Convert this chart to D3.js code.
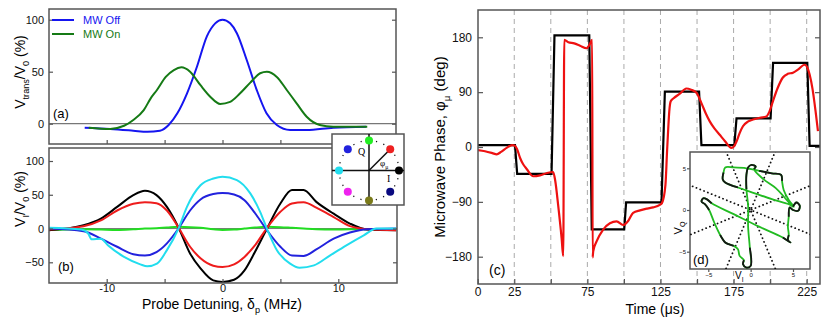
<!DOCTYPE html>
<html>
<head>
<meta charset="utf-8">
<script src="https://cdn.jsdelivr.net/npm/d3@7"></script>
<style>
body { margin: 0; background: #fff; }
svg { display: block; font-family: "Liberation Sans", Arial, sans-serif; }
</style>
</head>
<body>
<svg id="fig" width="830" height="325"></svg>
<script>
// ---- (a) transmission vs probe detuning
var offDet = [-11.9, -9.7, -7.7, -6.5, -5.4, -4.65, -3.9, -3.07, -2.2, -1.35, -0.63, 0, 0.66, 1.24, 2.1, 2.97, 3.8, 4.69, 5.84, 7.27, 9.57, 12.4];
var offV   = [-3.8, -5, -6.7, -7.8, -6.7, -1.2, 10, 29, 55, 84, 96.5, 100, 96.5, 87, 61, 32, 10, -1.2, -6, -6, -3.8, -2.9];
var onDet  = [-11.55, -9.7, -8.5, -7.7, -6.8, -6.2, -5.66, -4.9, -4.2, -3.56, -2.8, -1.9, -1.06, -0.2, 0.66, 1.5, 2.4, 3.25, 3.83, 4.69, 5.55, 6.4, 7.27, 8.4, 9.57, 12.5];
var onV    = [-3.8, -5, -2, 3.6, 13, 24.4, 32.4, 45, 51.6, 54.2, 50, 37, 26, 19, 21, 29, 39.5, 48.5, 50, 45, 32.4, 19.6, 6.7, -1.2, -2.9, -2.9];

// ---- (b) in-phase signal for several microwave phases
var bDet   = [-15, -12, -10.5, -9.1, -7.7, -6.7, -5.7, -4.8, -3.8, -2.8, -1.9, -0.8, 0, 1, 1.9, 2.8, 3.8, 5, 6, 7, 8.1, 9.6, 11, 12.5, 15];
var vI0    = [-2.5, 4.9, 14.8, 32, 49.5, 56, 49.5, 32, 1.5, -37, -59, -76.8, -79, -75.8, -62, -34.8, -1.5, 37, 57, 57, 39.5, 22, 7.4, -1.5, -2.5];
var vI45   = [-1.5, 3.4, 12, 26.7, 36.6, 39, 37.6, 26.7, 1.5, -27, -44, -55, -57, -53, -42, -25, 0, 24.8, 37, 39, 31, 17, 3.5, -1, -2.5];
var vI90   = [-2, -1, -1.5, -2, -1, 0, 0.5, 1.5, 2.5, 2, 1, -1, -2, -1.5, 0, 1.5, 2.5, 2, 1, 0, -1, -1.5, -1, -1, -1];
var vI135  = [0, -4, -15, -27, -38, -40, -35, -22, 0, 26.7, 43, 51, 52.5, 50.5, 42, 23, -1.5, -27, -40, -40.5, -31, -15, -6, -1, 0];
var cyanDet = [-15, -12.2, -11.6, -11.3, -10.5, -9.9, -8.5, -7.1, -6.5, -5.66, -4.8, -3.8, -3.07, -1.9, -0.78, 0, 1.24, 2.4, 3.25, 3.83, 4.7, 5.84, 6.66, 7.9, 9.3, 10.7, 12.2, 13.3, 15];
var vI180   = [1, -1.5, -7.4, -16, -15, -24.8, -42, -53, -56, -52, -32, 0, 32, 64, 74, 76.7, 71.8, 52, 24.7, 0, -32, -52, -58, -54.5, -39.6, -24.8, -10, 0, 0];

// ---- phasor diagram
var phasorDeg = [90, 45, 0, -45, -90, -135, 180, 135];
var phasorCol = ["#22ee22", "#ee2020", "#000000", "#0a0a80", "#7a7a1a", "#ee22ee", "#22ddee", "#2222dd"];

// ---- (c) microwave phase vs time
var blackT   = [0, 25.5, 27, 50.5, 52.5, 76.3, 78, 100.2, 101.5, 125.7, 128, 151.4, 153, 175.5, 177, 200.3, 202, 225.4, 227, 234];
var blackPhi = [3, 3, -44, -44, 183, 183, -135, -135, -91, -91, 91, 91, 3, 3, 47, 47, 138, 138, 2, 2];
var redT   = [0, 5, 10, 13, 16, 20, 23.5, 25.5, 27, 29, 31, 33.5, 38, 42.6, 47, 51.6, 53, 55, 57.4, 58.5, 59.2, 62, 66, 70, 74.4, 76.5, 78.3,
              78.6, 79, 81.3, 85.8, 90.4, 95, 99.5, 103, 106.3, 111, 116, 120, 124.5, 126, 128.4, 129.5, 130.3, 131, 132, 134, 138, 142.7, 146, 149.6,
              153, 156, 158.7, 162, 165.5, 169, 173.5, 175.5, 177, 179, 181.4, 185, 188.3, 193, 197.4, 199.5, 201.9, 205, 208.7, 212, 215.6, 219, 223.6,
              225.5, 227, 229, 231, 232.7];
var redPhi = [-5, -7, -10, -12, -8, -1, 3, 2, -4, -18, -28, -36, -48, -46.5, -43, -41, -55, -95, -150, -179, 176, 172, 170, 166, 162, 168, 176,
              -181, -171, -155, -135.6, -125, -122, -128, -121, -108, -104, -101, -99, -95, -92, -62, -7, 30, 58, 75, 80, 87, 96, 94, 89,
              72, 55, 42, 30, 20, 10, -1.6, 2, 9, 22, 34, 42, 45, 48, 50, 58, 75, 96, 114, 120, 122, 127, 135,
              130, 119, 95, 60, 26];

// ---- (d) IQ trajectory
var dTrace = [[5.0,0.4],[5.4,0.9],[5.8,0.5],[5.6,-0.1],[5.0,0.0],[4.6,0.3],[4.5,-0.8],[4.4,-2.0],[4.5,-3.0],[4.4,-3.6],[4.7,-3.9],
  [3.8,-3.3],[1.0,-2.0],[-2.0,-0.5],[-4.6,0.8],[-5.2,1.3],[-5.6,1.4],[-5.8,1.0],[-5.4,0.7],[-4.9,0.0],[-4.3,-1.5],[-3.6,-3.0],
  [-3.0,-3.9],[-2.6,-4.1],[-2.0,-4.3],[-1.5,-4.7],[-1.3,-5.5],[-0.8,-6.0],[-0.9,-6.5],[-0.5,-6.9],[0.0,-6.7],[-0.1,-4.5],[-0.3,-2.0],
  [-0.3,0.5],[-0.5,2.5],[-0.5,4.2],[-0.3,5.1],[0.1,5.4],[0.6,5.2],[0.4,4.9],[1.5,3.7],[3.0,2.6],[4.0,1.5],[4.8,0.6],[5.1,0.4],
  [4.5,1.2],[3.9,2.4],[3.7,3.5],[3.6,4.2],[2.5,4.4],[1.0,4.7],[-0.5,5.0],[-2.0,5.1],[-3.0,5.1],[-3.2,4.5],[-3.3,3.7],[-3.0,3.3],
  [-1.5,2.7],[0.5,2.0],[2.5,1.3],[4.5,0.7],[5.0,0.4]];
var dBlackRanges = [[0,6],[8,11],[14,19],[21,24],[27,31],[34,39],[47,50],[54,57]];
var dGuideDeg = [22.5, 67.5, 112.5, 157.5];

var svg = d3.select("#fig");

function clip(id, x, y, w, h) {
  svg.append("clipPath").attr("id", id)
    .append("rect").attr("x", x).attr("y", y).attr("width", w).attr("height", h);
}

function frame(x, y, w, h, fill) {
  return svg.append("rect")
    .attr("x", x).attr("y", y).attr("width", w).attr("height", h)
    .attr("fill", fill || "none").attr("stroke", "#555").attr("stroke-width", 1.5);
}

function styleAxis(g, size) {
  g.select(".domain").remove();
  g.selectAll("line").attr("stroke", "#555").attr("stroke-width", 1.2);
  g.selectAll("text").attr("font-size", size || 11).attr("fill", "#111")
    .attr("font-family", "'Liberation Sans', Arial, sans-serif");
}

// text with subscripts: parts = [[str, isSub], ...]
function rich(sel, parts, size) {
  parts.forEach(function (p, i) {
    var prev = i > 0 && parts[i - 1][1];
    var dy = p[1] && !prev ? size * 0.3 : (!p[1] && prev ? -size * 0.3 : 0);
    sel.append("tspan").attr("dy", dy)
      .attr("font-size", p[1] ? size * 0.65 : size).text(p[0]);
  });
  return sel;
}

// ================= (a) =================
var xL = d3.scaleLinear().domain([-10, 10]).range([106.7, 338.3]);
var yA = d3.scaleLinear().domain([0, 100]).range([123.7, 19.7]);
clip("clipA", 49, 9, 347, 135);

svg.append("line").attr("x1", 49).attr("x2", 396).attr("y1", yA(0)).attr("y2", yA(0))
  .attr("stroke", "#777").attr("stroke-width", 1.2);

var lineA = d3.line().x(d => xL(d[0])).y(d => yA(d[1])).curve(d3.curveMonotoneX);
var gA = svg.append("g").attr("clip-path", "url(#clipA)");
gA.append("path").datum(d3.zip(offDet, offV)).attr("d", lineA)
  .attr("fill", "none").attr("stroke", "#1515f0").attr("stroke-width", 2);
gA.append("path").datum(d3.zip(onDet, onV)).attr("d", lineA)
  .attr("fill", "none").attr("stroke", "#157a15").attr("stroke-width", 2);

styleAxis(svg.append("g").attr("transform", "translate(49,0)")
  .call(d3.axisLeft(yA).tickValues([0, 50, 100]).tickSize(-4).tickPadding(5)));
styleAxis(svg.append("g").attr("transform", "translate(396,0)")
  .call(d3.axisRight(yA).tickValues([0, 50, 100]).tickSize(-4).tickFormat("")));
styleAxis(svg.append("g").attr("transform", "translate(0,144)")
  .call(d3.axisBottom(xL).tickValues([-10, -5, 0, 5, 10]).tickSize(-4).tickFormat("")));
frame(49, 9, 347, 135);

// legend
var legend = [["MW Off", "#1515f0"], ["MW On", "#157a15"]];
legend.forEach(function (l, i) {
  var yy = 20 + i * 14;
  svg.append("line").attr("x1", 52).attr("x2", 74).attr("y1", yy).attr("y2", yy)
    .attr("stroke", l[1]).attr("stroke-width", 2);
  svg.append("text").attr("x", 83).attr("y", yy + 4).attr("font-size", 11)
    .attr("fill", l[1]).text(l[0]);
});
svg.append("text").attr("x", 53).attr("y", 118).attr("font-size", 13).text("(a)");

rich(svg.append("text").attr("transform", "translate(25,72) rotate(-90)").attr("text-anchor", "middle"),
  [["V", 0], ["trans", 1], ["/V", 0], ["0", 1], [" (%)", 0]], 14);

// ================= (b) =================
var yB = d3.scaleLinear().domain([-50, 100]).range([262.3, 161]);
clip("clipB", 49, 148, 348, 135);

svg.append("line").attr("x1", 49).attr("x2", 397).attr("y1", yB(0)).attr("y2", yB(0))
  .attr("stroke", "#777").attr("stroke-width", 1);

var lineB = d3.line().x(d => xL(d[0])).y(d => yB(d[1])).curve(d3.curveMonotoneX);
var gB = svg.append("g").attr("clip-path", "url(#clipB)");
var bSeries = [[bDet, vI90, "#22dd22"], [bDet, vI0, "#000000"], [bDet, vI45, "#ee1c1c"],
               [bDet, vI135, "#2222dd"], [cyanDet, vI180, "#22ddee"]];
bSeries.forEach(function (s) {
  gB.append("path").datum(d3.zip(s[0], s[1])).attr("d", lineB)
    .attr("fill", "none").attr("stroke", s[2]).attr("stroke-width", 2);
});

styleAxis(svg.append("g").attr("transform", "translate(49,0)")
  .call(d3.axisLeft(yB).tickValues([-50, 0, 50, 100]).tickSize(-4).tickPadding(5)));
styleAxis(svg.append("g").attr("transform", "translate(397,0)")
  .call(d3.axisRight(yB).tickValues([-50, 0, 50, 100]).tickSize(-4).tickFormat("")));
styleAxis(svg.append("g").attr("transform", "translate(0,283)")
  .call(d3.axisBottom(xL).tickValues([-10, -5, 0, 5, 10]).tickSize(-4).tickPadding(1)
    .tickFormat(d => (d % 10 === 0 ? d : ""))));
frame(49, 148, 348, 135);
svg.append("text").attr("x", 58).attr("y", 271).attr("font-size", 13).text("(b)");

rich(svg.append("text").attr("transform", "translate(25,199) rotate(-90)").attr("text-anchor", "middle"),
  [["V", 0], ["I", 1], ["/V", 0], ["0", 1], [" (%)", 0]], 14);
rich(svg.append("text").attr("x", 222).attr("y", 309).attr("text-anchor", "middle"),
  [["Probe Detuning, δ", 0], ["p", 1], [" (MHz)", 0]], 14);

// ================= phasor inset =================
var pcx = 369, pcy = 170.5;
var pr = d3.scaleLinear().domain([0, 1]).range([0, 30]);
frame(332, 134, 72, 71, "#fff");
svg.append("circle").attr("cx", pcx).attr("cy", pcy).attr("r", pr(1))
  .attr("fill", "none").attr("stroke", "#111").attr("stroke-width", 1.3)
  .attr("stroke-dasharray", "1.2,6.6");
svg.append("line").attr("x1", 332).attr("x2", 404).attr("y1", pcy).attr("y2", pcy)
  .attr("stroke", "#111").attr("stroke-width", 1.5);
svg.append("line").attr("x1", pcx).attr("x2", pcx).attr("y1", 134).attr("y2", 205)
  .attr("stroke", "#111").attr("stroke-width", 1.5);
var a45 = 45 * Math.PI / 180;
svg.append("line").attr("x1", pcx).attr("y1", pcy)
  .attr("x2", pcx + pr(Math.cos(a45))).attr("y2", pcy - pr(Math.sin(a45)))
  .attr("stroke", "#111").attr("stroke-width", 1.5);
svg.selectAll(".pdot").data(d3.zip(phasorDeg, phasorCol)).enter().append("circle")
  .attr("cx", d => pcx + pr(Math.cos(d[0] * Math.PI / 180)))
  .attr("cy", d => pcy - pr(Math.sin(d[0] * Math.PI / 180)))
  .attr("r", 4).attr("fill", d => d[1]);
svg.append("text").attr("x", 358).attr("y", 155).attr("font-size", 10)
  .attr("font-family", "'Liberation Serif', serif").text("Q");
svg.append("text").attr("x", 387).attr("y", 182).attr("font-size", 10)
  .attr("font-family", "'Liberation Serif', serif").text("I");
rich(svg.append("text").attr("x", 380).attr("y", 166).attr("font-family", "'Liberation Serif', serif"),
  [["φ", 0], ["μ", 1]], 9);

// ================= (c) =================
var xC = d3.scaleLinear().domain([0, 225]).range([477.7, 806.7]);
var yC = d3.scaleLinear().domain([-180, 180]).range([256.7, 37.3]);
clip("clipC", 478, 10, 342, 274);

svg.selectAll(".vdash").data(d3.range(25, 226, 25)).enter().append("line")
  .attr("x1", d => xC(d)).attr("x2", d => xC(d)).attr("y1", 10).attr("y2", 284)
  .attr("stroke", "#aaa").attr("stroke-width", 1).attr("stroke-dasharray", "5,4");

var lineC = d3.line().x(d => xC(d[0])).y(d => yC(d[1]));
var gC = svg.append("g").attr("clip-path", "url(#clipC)");
gC.append("path").datum(d3.zip(blackT, blackPhi)).attr("d", lineC)
  .attr("fill", "none").attr("stroke", "#000").attr("stroke-width", 2.2);
gC.append("path").datum(d3.zip(redT, redPhi)).attr("d", lineC.curve(d3.curveMonotoneX))
  .attr("fill", "none").attr("stroke", "#ee1111").attr("stroke-width", 2.2);

styleAxis(svg.append("g").attr("transform", "translate(478,0)")
  .call(d3.axisLeft(yC).tickValues([-180, -90, 0, 90, 180]).tickSize(-5).tickPadding(6)), 12);
styleAxis(svg.append("g").attr("transform", "translate(820,0)")
  .call(d3.axisRight(yC).tickValues([-180, -90, 0, 90, 180]).tickSize(-5).tickFormat("")));
var cLabels = [0, 25, 75, 125, 175, 225];
styleAxis(svg.append("g").attr("transform", "translate(0,284)")
  .call(d3.axisBottom(xC).tickValues(d3.range(0, 226, 25)).tickSize(-5).tickPadding(3)
    .tickFormat(d => (cLabels.indexOf(d) >= 0 ? d : ""))), 12);
frame(478, 10, 342, 274);
svg.append("text").attr("x", 489).attr("y", 275).attr("font-size", 14).text("(c)");

rich(svg.append("text").attr("transform", "translate(445,147) rotate(-90)").attr("text-anchor", "middle"),
  [["Microwave Phase, φ", 0], ["μ", 1], [" (deg)", 0]], 15);
rich(svg.append("text").attr("x", 655).attr("y", 314).attr("text-anchor", "middle"),
  [["Time (μs)", 0]], 14);

// ================= (d) inset =================
var xD = d3.scaleLinear().domain([-5, 5]).range([708.3, 793]);
var yD = d3.scaleLinear().domain([-5, 5]).range([251.7, 168.3]);
frame(690, 152, 120, 117, "#fff");
clip("clipD", 690, 152, 120, 117);
var gD = svg.append("g").attr("clip-path", "url(#clipD)");

gD.selectAll(".guide").data(dGuideDeg).enter().append("line")
  .attr("x1", d => xD(-12 * Math.cos(d * Math.PI / 180)))
  .attr("y1", d => yD(-12 * Math.sin(d * Math.PI / 180)))
  .attr("x2", d => xD(12 * Math.cos(d * Math.PI / 180)))
  .attr("y2", d => yD(12 * Math.sin(d * Math.PI / 180)))
  .attr("stroke", "#111").attr("stroke-width", 1.8)
  .attr("stroke-linecap", "round").attr("stroke-dasharray", "0.1,4");

var lineD = d3.line().x(d => xD(d[0])).y(d => yD(d[1])).curve(d3.curveCatmullRom);
gD.append("path").datum(dTrace).attr("d", lineD)
  .attr("fill", "none").attr("stroke", "#22bb22").attr("stroke-width", 1.8);
dBlackRanges.forEach(function (r) {
  gD.append("path").datum(dTrace.slice(r[0], r[1] + 1)).attr("d", lineD)
    .attr("fill", "none").attr("stroke", "#151515").attr("stroke-width", 1.8);
});

styleAxis(svg.append("g").attr("transform", "translate(690,0)")
  .call(d3.axisLeft(yD).tickValues([-5, 0, 5]).tickSize(3).tickPadding(1)), 6);
styleAxis(svg.append("g").attr("transform", "translate(0,269)")
  .call(d3.axisBottom(xD).tickValues([-5, 0, 5]).tickSize(3).tickPadding(1)), 6);
svg.append("text").attr("x", 693).attr("y", 264).attr("font-size", 13).text("(d)");
rich(svg.append("text").attr("x", 735).attr("y", 279), [["V", 0], ["I", 1]], 10);
rich(svg.append("text").attr("transform", "translate(682,228) rotate(-90)").attr("text-anchor", "middle"),
  [["V", 0], ["Q", 1]], 11);
</script>
</body>
</html>
